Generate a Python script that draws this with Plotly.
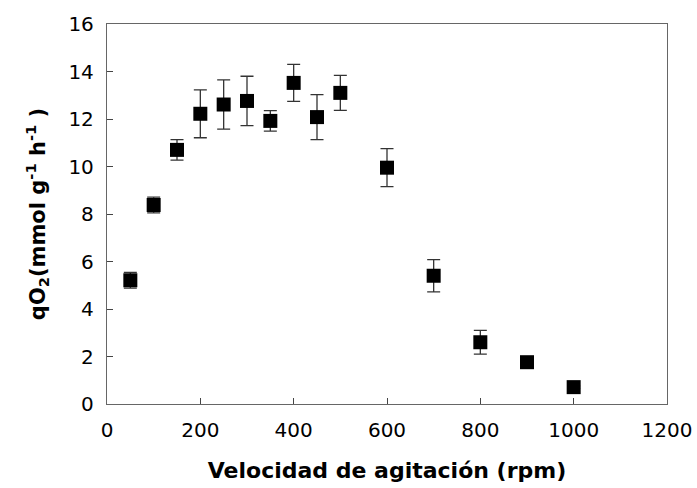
import plotly.graph_objects as go

# Agitation speed (rpm) and specific oxygen uptake rate qO2 with its standard deviation
velocidad = [50, 100, 150, 200, 250, 300, 350, 400, 450, 500, 600, 700, 800, 900, 1000]
qo2 = [5.21, 8.38, 10.70, 12.22, 12.61, 12.76, 11.92, 13.52, 12.08, 13.10, 9.95, 5.40, 2.60, 1.76, 0.71]
desv = [0.33, 0.33, 0.43, 1.01, 1.04, 1.04, 0.43, 0.78, 0.95, 0.74, 0.80, 0.68, 0.50, 0.05, 0.05]

x_ticks = [0, 200, 400, 600, 800, 1000, 1200]
y_ticks = [0, 2, 4, 6, 8, 10, 12, 14, 16]

fig = go.Figure()
fig.add_trace(go.Scatter(
    x=velocidad,
    y=qo2,
    mode="markers",
    marker=dict(symbol="square", size=14, color="black", line=dict(width=0)),
    error_y=dict(type="data", array=desv, visible=True, color="#333333", thickness=1.3, width=6.5),
    showlegend=False,
))

font_family = "DejaVu Sans, Liberation Sans, Arial, sans-serif"
axis_common = dict(
    showgrid=False,
    zeroline=False,
    showline=True,
    linecolor="#666666",
    linewidth=1.3,
    mirror=True,
    ticks="inside",
    ticklen=6,
    tickwidth=1,
    tickcolor="#444444",
    tickfont=dict(family=font_family, size=20, color="black"),
    automargin=False,
)

fig.update_layout(
    width=697,
    height=488,
    margin=dict(l=107, r=30, t=24, b=84),
    paper_bgcolor="white",
    plot_bgcolor="white",
    xaxis=dict(
        range=[0, 1200],
        tickvals=x_ticks,
        title=dict(text="Velocidad de agitación (rpm)",
                   font=dict(family=font_family, size=22, color="black", weight="bold"),
                   standoff=21),
        ticklabelstandoff=8,
        **axis_common,
    ),
    yaxis=dict(
        range=[0, 16],
        tickvals=y_ticks,
        title=dict(text="qO<sub>2</sub>(mmol g<sup>-1</sup> h<sup>-1</sup> )",
                   font=dict(family=font_family, size=21, color="black", weight="bold"),
                   standoff=17),
        ticklabelstandoff=8,
        **axis_common,
    ),
)

fig.write_html("out.html")
